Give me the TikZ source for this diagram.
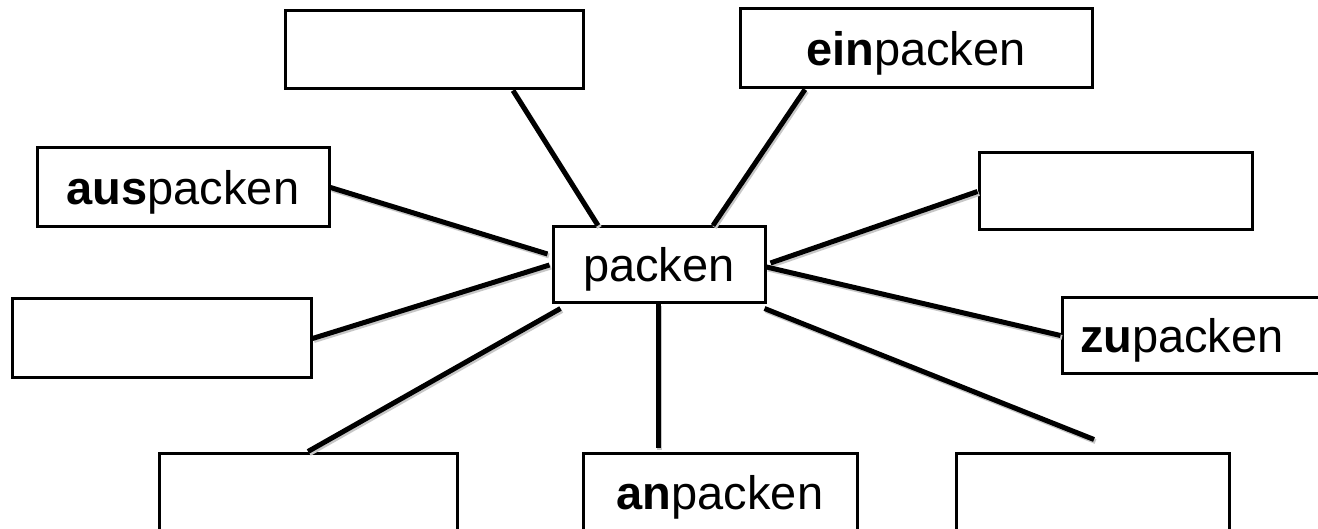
\documentclass[tikz,border=0pt]{standalone}
\usepackage{fontspec}
\setmainfont{Liberation Sans}
\tikzset{
  box/.style={draw=black, line width=3pt, fill=white, rectangle, inner sep=0pt,
    font=\fontsize{47}{56}\selectfont, text height=40pt, text depth=6pt},
  link/.style={draw=black, line width=5pt,
    preaction={draw=black!22, line width=5pt, transform canvas={shift={(1.5pt,-2pt)}}}}
}
\begin{document}
\begin{tikzpicture}[x=1pt,y=-1pt]
\clip (0,0) rectangle (1318,529);
\fill[white] (0,0) rectangle (1318,529);
% nodes
\node[box, minimum width=298pt, minimum height=78pt] (e1) at (434,50) {};
\node[box, minimum width=352pt, minimum height=79pt] (ein) at (916,48.5) {\textbf{ein}packen};
\node[box, minimum width=292pt, minimum height=79pt] (aus) at (183,187.5) {\textbf{aus}packen};
\node[box, minimum width=273pt, minimum height=77pt] (e2) at (1115.5,191.5) {};
\node[box, minimum width=212pt, minimum height=76pt] (packen) at (659,265) {packen};
\node[box, minimum width=299pt, minimum height=79pt] (e3) at (161.5,338.5) {};
\node[box, minimum height=76pt, text width=264pt, align=left, inner xsep=18pt] (zu) at (1212,335.5) {\textbf{zu}packen};
\node[box, minimum width=298pt, minimum height=78pt] (bl) at (308,492) {};
\node[box, minimum width=274pt, minimum height=78pt] (an) at (720,492) {\textbf{an}packen};
\node[box, minimum width=273pt, minimum height=78pt] (br) at (1092.5,492) {};
% connectors
\draw[link] ([xshift=79pt]e1.south) -- ([xshift=-61pt]packen.north);
\draw[link] ([xshift=-111pt]ein.south) -- ([xshift=54pt]packen.north);
\draw[link] (aus.east) -- ([xshift=-4pt,yshift=11pt]packen.west);
\draw[link] (e2.west) -- ([xshift=4pt,yshift=2pt]packen.east);
\draw[link] (e3.east) -- ([xshift=-2pt]packen.west);
\draw[link] ([xshift=9pt,yshift=-4pt]packen.south west) -- (bl.north);
\draw[link] ([xshift=-1pt]packen.south) -- ([xshift=-1pt,yshift=4pt]packen.south |- an.north);
\draw[link] ([yshift=-2pt]packen.east) -- (zu.west);
\draw[link] ([xshift=-2pt,yshift=-4pt]packen.south east) -- ([xshift=1.5pt,yshift=12pt]br.north);
\end{tikzpicture}
\end{document}
